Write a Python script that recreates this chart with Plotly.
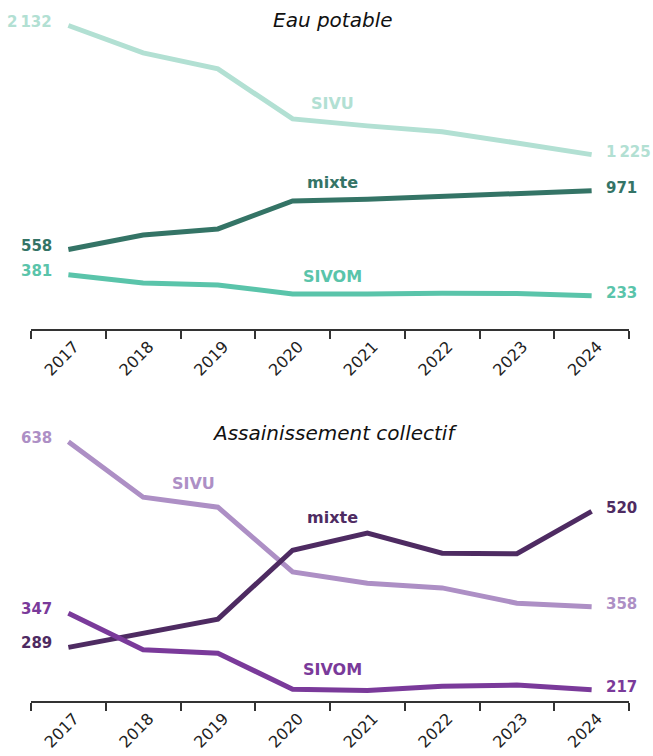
import plotly.graph_objects as go

years = ["2017", "2018", "2019", "2020", "2021", "2022", "2023", "2024"]

# Eau potable
eau_sivu = [2132, 1940, 1827, 1476, 1427, 1385, 1307, 1225]
eau_mixte = [558, 660, 703, 900, 912, 929, 951, 971]
eau_sivom = [381, 323, 309, 246, 246, 252, 249, 233]

# Assainissement collectif
ass_sivu = [638, 544, 527, 417, 398, 390, 364, 358]
ass_mixte = [289, 312, 337, 454, 483, 449, 448, 520]
ass_sivom = [347, 285, 279, 218, 216, 223, 225, 217]

titles = ["Eau potable", "Assainissement collectif"]
names = ["SIVU", "mixte", "SIVOM"]


def fmt(v):
    return f"{v:,}".replace(",", "\u2009")


FONT = "DejaVu Sans"
W, H = 653, 756

top_colors = ["#b2e0d3", "#347466", "#5ac4aa"]
bot_colors = ["#ad8fc5", "#4e2b62", "#7a3a9a"]

fig = go.Figure()

panels = [
    dict(series=[eau_sivu, eau_mixte, eau_sivom], colors=top_colors, xa="x", ya="y"),
    dict(series=[ass_sivu, ass_mixte, ass_sivom], colors=bot_colors, xa="x2", ya="y2"),
]

for p in panels:
    for vals, col in zip(p["series"], p["colors"]):
        fig.add_trace(go.Scatter(
            x=years, y=vals, mode="lines",
            line=dict(color=col, width=5),
            xaxis=p["xa"], yaxis=p["ya"], hoverinfo="skip", showlegend=False,
        ))

annotations = []
last = len(years) - 1
for p in panels:
    xr, yr = p["xa"], p["ya"]
    for vals, col in zip(p["series"], p["colors"]):
        annotations.append(dict(x=0, y=vals[0], xref=xr, yref=yr, text=fmt(vals[0]),
                                showarrow=False, xanchor="right", yanchor="middle", xshift=-14, yshift=4,
                                font=dict(family=FONT, size=15, color=col, weight="bold")))
        annotations.append(dict(x=last, y=vals[-1], xref=xr, yref=yr, text=fmt(vals[-1]),
                                showarrow=False, xanchor="left", yanchor="middle", xshift=12, yshift=3,
                                font=dict(family=FONT, size=15, color=col, weight="bold")))

# series name labels (category index, value)
top_name_pos = [(3.53, 1585), (3.54, 1030), (3.53, 368)]
bot_name_pos = [(1.68, 568), (3.54, 509), (3.53, 251)]
for (xi, yv), nm, col in zip(top_name_pos, names, top_colors):
    annotations.append(dict(x=xi, y=yv, xref="x", yref="y", text=nm, showarrow=False,
                            font=dict(family=FONT, size=16, color=col, weight="bold")))
for (xi, yv), nm, col in zip(bot_name_pos, names, bot_colors):
    annotations.append(dict(x=xi, y=yv, xref="x2", yref="y2", text=nm, showarrow=False,
                            font=dict(family=FONT, size=16, color=col, weight="bold")))

annotations.append(dict(x=0.505, y=1 - 20 / H, xref="paper", yref="paper", text="<i>" + titles[0] + "</i>",
                        showarrow=False, xanchor="center", yanchor="middle",
                        font=dict(family=FONT, size=20, color="#111")))
annotations.append(dict(x=0.508, y=1 - 433 / H, xref="paper", yref="paper", text="<i>" + titles[1] + "</i>",
                        showarrow=False, xanchor="center", yanchor="middle",
                        font=dict(family=FONT, size=20, color="#111")))

xcommon = dict(type="category", range=[-0.5, 7.5], showgrid=False, zeroline=False,
               showline=True, linewidth=2, linecolor="#333",
               ticks="outside", ticklen=8, tickwidth=2, tickcolor="#333",
               tickson="boundaries", tickangle=-45, ticklabelshift=6,
               tickfont=dict(family=FONT, size=16, color="#222"))

fig.update_layout(
    width=W, height=H,
    margin=dict(l=31, r=24, t=0, b=0),
    paper_bgcolor="white", plot_bgcolor="white",
    xaxis=dict(**xcommon, anchor="y", domain=[0, 1]),
    xaxis2=dict(**xcommon, anchor="y2", domain=[0, 1]),
    yaxis=dict(domain=[1 - 329 / H, 1 - 8 / H], range=[0, 2255], visible=False),
    yaxis2=dict(domain=[1 - 701 / H, 1 - 420 / H], range=[198, 675], visible=False),
    annotations=annotations,
)

fig.write_html("out.html", config={"displayModeBar": False},
               post_script="document.body.style.margin='0';document.body.style.overflow='hidden';")
